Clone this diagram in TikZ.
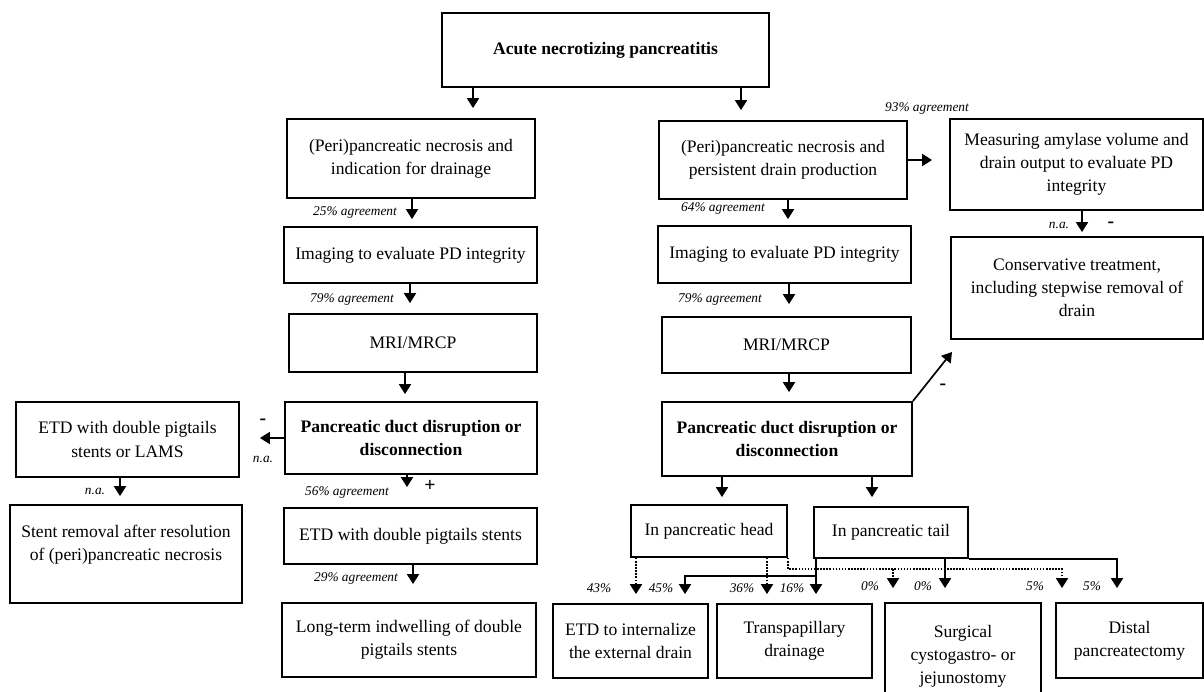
\documentclass[tikz,border=0pt]{standalone}
\usepackage{fontspec}
\setmainfont{Liberation Serif}
\usetikzlibrary{arrows.meta}

\tikzset{
  box/.style={draw, line width=1.3pt, align=center, inner sep=2pt,
    font=\fontsize{12.5}{16.4}\selectfont},
  bx/.style 2 args={box, minimum width=#1cm, minimum height=#2cm},
  lab/.style={font=\fontsize{9.5}{11}\selectfont\itshape, inner sep=0pt},
  sgn/.style={font=\fontsize{14}{15}\selectfont\bfseries, inner sep=0pt},
  arr/.style={line width=1.2pt, -{Triangle[width=8.5pt,length=7pt]}},
  dotarr/.style={arr, dash pattern=on 1.1pt off 1.1pt},
}

\begin{document}
\begin{tikzpicture}[x=0.025cm, y=-0.025cm]
  \useasboundingbox (0,0) rectangle (1204,691);

  \node[bx={8.175}{1.85}] (top) at (605.5,50) {\textbf{Acute necrotizing pancreatitis}};

  \node[bx={6.2}{1.975}] (pdL) at (411,158.5) {(Peri)pancreatic necrosis and\\indication for drainage};
  \node[bx={6.325}{1.4}] (imgL) at (410.5,255) {Imaging to evaluate PD integrity};
  \node[bx={6.2}{1.45}] (mriL) at (413,343) {MRI/MRCP};
  \node[bx={6.3}{1.8}] (pddL) at (411,438) {\textbf{Pancreatic duct disruption or}\\\textbf{disconnection}};
  \node[bx={6.325}{1.4}] (stentsL) at (410.5,536) {ETD with double pigtails stents};
  \node[bx={6.35}{1.85}] (longL) at (409,640) {Long-term indwelling of double\\pigtails stents};
  \node[bx={5.575}{1.875}] (etdL) at (127.5,439.5) {ETD with double pigtails\\stents or LAMS};
  \node[bx={5.8}{2.45}] (stentL) at (126,554) {Stent removal after resolution\\of (peri)pancreatic necrosis\\~};

  \node[bx={6.2}{1.95}] (pdR) at (783,160) {(Peri)pancreatic necrosis and\\persistent drain production};
  \node[bx={6.325}{1.425}] (imgR) at (784.5,254.5) {Imaging to evaluate PD integrity};
  \node[bx={6.225}{1.4}] (mriR) at (786.5,345) {MRI/MRCP};
  \node[bx={6.25}{1.85}] (pddR) at (787,439) {\textbf{Pancreatic duct disruption or}\\\textbf{disconnection}};
  \node[bx={6.325}{2.275}] (amyl) at (1076.5,164.5) {Measuring amylase volume and\\drain output to evaluate PD\\integrity};
  \node[bx={6.3}{2.55}] (cons) at (1077,288) {Conservative treatment,\\including stepwise removal of\\drain};

  \node[bx={3.9}{1.3}] (head) at (709,531) {In pancreatic head};
  \node[bx={3.85}{1.275}] (tail) at (891,532.5) {In pancreatic tail};
  \node[bx={3.875}{1.85}] (etdi) at (630.5,641) {ETD to internalize\\the external drain};
  \node[bx={3.875}{1.85}] (trans) at (794.5,641) {Transpapillary\\drainage};
  \node[bx={3.9}{2.65}] (surg) at (963,656) {Surgical\\cystogastro- or\\jejunostomy};
  \node[bx={3.675}{1.875}] (dist) at (1129.5,640.5) {Distal\\pancreatectomy};

  \draw[arr, shorten >=0.25cm] (top.south -| 473,0) -- (pdL.north -| 473,0);
  \draw[arr, shorten >=0.25cm] (top.south -| 741,0) -- (pdR.north -| 741,0);

  \draw[arr, shorten >=0.175cm] (pdL.south -| 412,0) -- (imgL.north -| 412,0);
  \draw[arr, shorten >=0.25cm] (imgL.south -| 410,0) -- (mriL.north -| 410,0);
  \draw[arr, shorten >=0.175cm] (mriL.south -| 405,0) -- (pddL.north -| 405,0);
  \draw[arr, shorten >=0.5cm] (pddL.south -| 407,0) -- (stentsL.north -| 407,0);
  \draw[arr, shorten >=0.45cm] (stentsL.south -| 413,0) -- (longL.north -| 413,0);
  \draw[arr, shorten >=0.5cm] (pddL.west) -- (etdL.east |- pddL.west);
  \draw[arr, shorten >=0.2cm] (etdL.south -| 120,0) -- (stentL.north -| 120,0);

  \draw[arr, shorten >=0.15cm] (pdR.south -| 788,0) -- (imgR.north -| 788,0);
  \draw[arr, shorten >=0.3cm] (imgR.south -| 789,0) -- (mriR.north -| 789,0);
  \draw[arr, shorten >=0.225cm] (mriR.south -| 789,0) -- (pddR.north -| 789,0);
  \draw[arr, shorten >=0.425cm] (pdR.east) -- (amyl.west |- pdR.east);
  \draw[arr, shorten >=0.1cm] (amyl.south -| 1082,0) -- (cons.north -| 1082,0);
  \coordinate (ctip) at (952,352);
  \draw[arr] (pddR.north east) -- (ctip);
  \draw[arr, shorten >=0.175cm] (pddR.south -| 722,0) -- (head.north -| 722,0);
  \draw[arr, shorten >=0.225cm] (pddR.south -| 872,0) -- (tail.north -| 872,0);

  \draw[dotarr, shorten >=0.225cm] (head.south -| 636,0) -- (etdi.north -| 636,0);
  \draw[dotarr, shorten >=0.225cm] (head.south -| 767,0) -- (trans.north -| 767,0);
  \draw[dotarr, shorten >=0.35cm] (head.south east) |- (1062,569) -- (dist.north -| 1062,0);
  \coordinate (dj) at (893,569);
  \draw[dotarr, shorten >=0.35cm] (dj) -- (surg.north -| dj);

  \draw[arr, shorten >=0.225cm] (tail.south -| 816,0) -- (trans.north -| 816,0);
  \coordinate (tj) at (816,576);
  \draw[arr, shorten >=0.225cm] (tj) -| (etdi.north -| 685,0);
  \draw[arr, shorten >=0.35cm] (tail.south -| 945,0) -- (surg.north -| 945,0);
  \draw[arr, shorten >=0.35cm] (tail.south east) -| (dist.north -| 1117,0);

  \node[lab] (a25) at (355,212) {25\% agreement};
  \node[lab] (a79l) at (352,299) {79\% agreement};
  \node[lab] (a56) at (347,492) {56\% agreement};
  \node[sgn] (plus) at (430,486) {+};
  \node[lab] (a29) at (356,578) {29\% agreement};
  \node[sgn] (minl) at (263,422) {-};
  \node[lab] (nal) at (263,459) {n.a.};
  \node[lab] (nae) at (95,491) {n.a.};
  \node[lab] (a93) at (927,108) {93\% agreement};
  \node[lab] (a64) at (723,208) {64\% agreement};
  \node[lab] (a79r) at (720,299) {79\% agreement};
  \node[sgn] (minc) at (943,387) {-};
  \node[lab] (naa) at (1059,225) {n.a.};
  \node[sgn] (mina) at (1111,225) {-};

  \node[lab] (p43) at (599,588) {43\%};
  \node[lab] (p45) at (661,588) {45\%};
  \node[lab] (p36) at (742,588) {36\%};
  \node[lab] (p16) at (792,588) {16\%};
  \node[lab] (p0a) at (870,586) {0\%};
  \node[lab] (p0b) at (923,586) {0\%};
  \node[lab] (p5a) at (1035,586) {5\%};
  \node[lab] (p5b) at (1092,586) {5\%};
\end{tikzpicture}
\end{document}
